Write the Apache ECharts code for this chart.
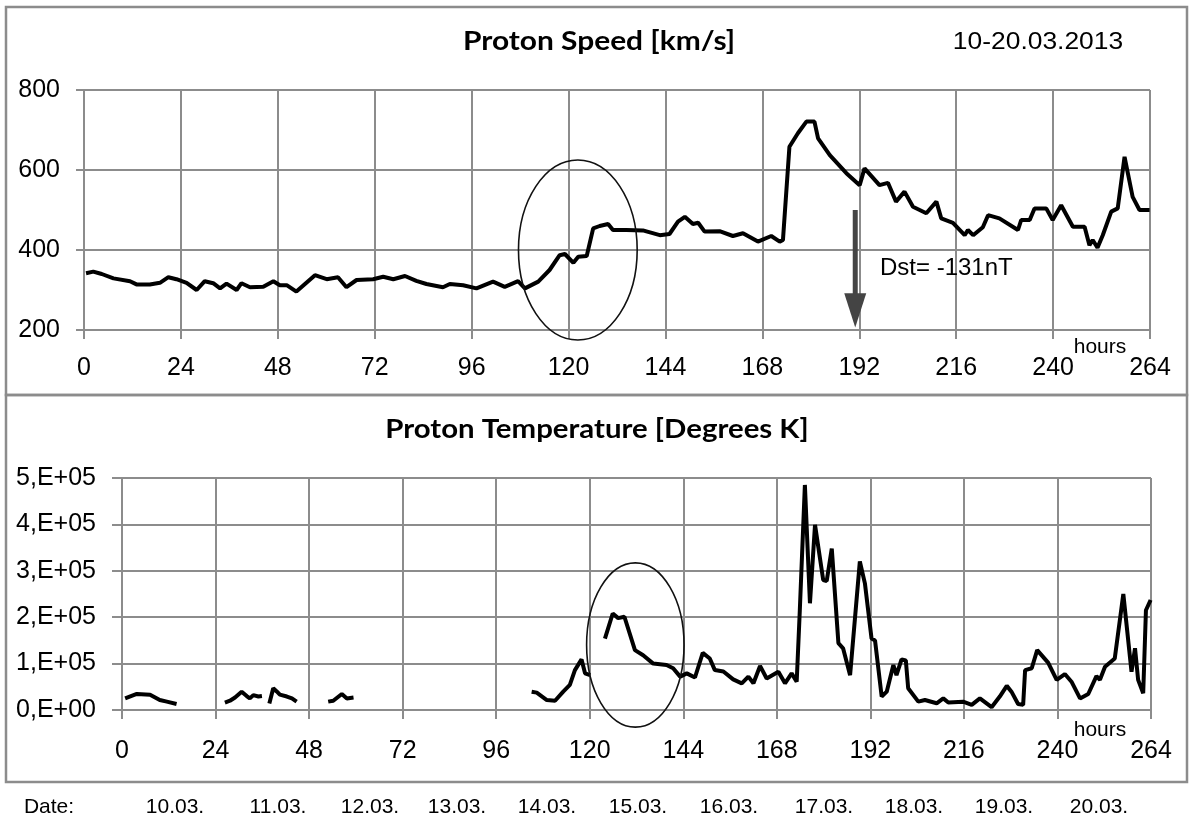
<!DOCTYPE html>
<html>
<head>
<meta charset="utf-8">
<script src="https://cdn.jsdelivr.net/npm/echarts@6/dist/echarts.min.js"></script>
<style>
  html, body { margin: 0; background: #fff; }
  #chart { width: 1189px; height: 823px; }
</style>
</head>
<body>
<div id="chart"></div>
<script>
// proton speed [km/s], hours from 10.03.2013 00:00
const speedHours = [0.5, 2.3, 4.4, 7.3, 11.4, 13, 16.3, 18.8, 20.9, 22.9, 25.4, 27.9, 29.9, 32, 33.7, 35.3, 37.8, 39, 41.1, 44.4,
  46.9, 48.5, 50.2, 52.6, 57.2, 60.1, 62.9, 65, 67.5, 71.6, 74.1, 76.6, 79.5, 82.3, 84.8, 88.9, 90.6, 93.9, 97.2, 101.3,
  104.2, 107.5, 109.2, 112.5, 115.3, 117.8, 119.1, 121.2, 122.4, 124.5, 126.1, 127.7, 129.8, 131, 134.3, 138.4, 142.6, 145, 147.1, 148.8,
  150.8, 152.1, 153.7, 157.4, 160.7, 163.2, 166.9, 170.2, 172.3, 173.1, 174.7, 176.8, 178.9, 180.9, 181.8, 184.7, 188.8, 192.1, 193.3, 197,
  199.1, 201.1, 203.2, 205.3, 208.6, 211.1, 212.3, 215.2, 218.1, 218.9, 220.2, 222.6, 223.9, 226.7, 231.3, 232.1, 234.2, 235.4, 238.3, 239.9,
  242, 244.9, 247.8, 249, 249.8, 251, 252.3, 254.4, 256, 257.7, 259.7, 261.4, 263.9];
const speedValues = [342, 346, 340, 329, 322, 314, 314, 318, 332, 327, 318, 300, 322, 317, 304, 316, 300, 317, 307, 308,
  322, 312, 312, 296, 337, 327, 332, 307, 325, 327, 333, 327, 335, 323, 315, 307, 315, 312, 304, 321,
  308, 322, 304, 321, 350, 387, 390, 368, 383, 385, 454, 460, 465, 450, 450, 449, 437, 440, 471, 483,
  465, 468, 446, 447, 435, 442, 421, 435, 421, 425, 658, 692, 721, 721, 679, 637, 592, 562, 604, 562,
  568, 521, 546, 508, 492, 521, 479, 468, 437, 450, 437, 457, 487, 479, 450, 475, 475, 504, 504, 475,
  512, 458, 458, 412, 425, 406, 437, 496, 504, 633, 533, 500, 500];

// proton temperature [K], null = data gap
const tempHours = [0.8, 3.8, 7.2, 9.7, 11.5, 14, 20, 26.4, 27.7, 29, 30.7, 32, 32.8, 33.7, 35, 35.9, 37, 37.8, 38.8, 39.7,
  40.5, 42.3, 43.6, 44.8, 50, 52.9, 54.2, 56.4, 57.7, 59.4, 80, 105.1, 106.4, 109, 111.1, 113.2, 114.9, 116.2, 117.9, 118.8,
  120.1, 122, 123.9, 125.9, 127.3, 128.9, 131.6, 133.7, 136.3, 139.7, 141.4, 143.2, 144.9, 147, 149, 150.8, 152.1, 154.3, 156.8, 159,
  160.7, 162, 163.7, 165.4, 168.4, 170.1, 171.8, 173.1, 173.9, 175.2, 176.5, 177.8, 179.9, 180.8, 182.1, 183.8, 185, 186.8, 189.3, 190.6,
  192.3, 193.2, 194.9, 196.2, 197.9, 198.7, 200, 201.1, 201.7, 204.3, 206, 209, 210.7, 212, 215.8, 218, 220.1, 223.1, 225.2, 227,
  228.2, 229.9, 231.2, 231.7, 233.4, 234.8, 237.6, 239.8, 241.9, 243.6, 245.8, 247.9, 250, 250.9, 252.2, 254.7, 256.9, 259, 259.9, 260.7,
  262, 262.7, 263.9];
const tempValues = [25000, 34500, 33000, 21500, 18000, 13000, null, 16000, 20000, 27000, 39500, 30000, 25000, 32000, 29000, 30000, null, 14000, 47000, 40000,
  33000, 29000, 25000, 18000, null, 18000, 20000, 34500, 25000, 27000, null, 39500, 37500, 21500, 20000, 39500, 54000, 86000, 109000, 79000,
  75000, null, 154000, 208000, 198000, 201000, 129000, 118000, 100000, 97000, 90000, 72000, 79000, 70000, 123000, 111000, 86000, 83000, 66000, 57500,
  72000, 57500, 95000, 68000, 82500, 57500, 79000, 61000, 215000, 485000, 230000, 399000, 280000, 278000, 348000, 144000, 133000, 75000, 320000, 273000,
  154000, 150000, 29000, 39500, 97000, 75000, 109000, 107000, 47000, 18000, 21500, 14500, 25000, 16000, 18000, 11000, 25000, 6000, 29000, 52000,
  39500, 13000, 11000, 86000, 90000, 129000, 102000, 65000, 77500, 61000, 25000, 34500, 73000, 65000, 93000, 111000, 250000, 82500, 133000, 65000,
  36000, 215000, 237000];

const dateLabels = ["10.03.", "11.03.", "12.03.", "13.03.", "14.03.", "15.03.", "16.03.", "17.03.", "18.03.", "19.03.", "20.03."];
const dateLabelX = [175, 278, 370, 457, 547, 638, 729, 824, 914, 1004, 1099];

const gridColor = "#8c8c8c";
const axisFont = "Liberation Sans, Arial, sans-serif";
const titleFont = "Lato, 'Noto Sans', sans-serif";

function hourAxis(gridIndex, margin) {
  return {
    type: "value",
    gridIndex: gridIndex,
    min: 0,
    max: 264,
    interval: 24,
    axisLine: { show: true, lineStyle: { color: gridColor, width: 2 } },
    axisTick: { show: true, length: 9, lineStyle: { color: gridColor, width: 2 } },
    axisLabel: { color: "#000", fontFamily: axisFont, fontSize: 25, margin: margin, showMinLabel: true, showMaxLabel: true },
    splitLine: { show: true, lineStyle: { color: gridColor, width: 2 } },
  };
}

const chart = echarts.init(document.getElementById("chart"));
chart.setOption({
  animation: false,
  grid: [
    { left: 84, right: 39, top: 90, bottom: 493, outerBoundsMode: "none" },
    { left: 122, right: 38, top: 478, bottom: 113, outerBoundsMode: "none" },
  ],
  xAxis: [hourAxis(0, 26), hourAxis(1, 29)],
  yAxis: [
    {
      type: "value",
      gridIndex: 0,
      min: 200,
      max: 800,
      interval: 200,
      axisLine: { show: true, lineStyle: { color: gridColor, width: 2 } },
      axisTick: { show: true, length: 8, lineStyle: { color: gridColor, width: 2 } },
      axisLabel: { color: "#000", fontFamily: axisFont, fontSize: 25, margin: 24 },
      splitLine: { show: true, lineStyle: { color: gridColor, width: 2 } },
    },
    {
      type: "value",
      gridIndex: 1,
      min: 0,
      max: 500000,
      interval: 100000,
      axisLine: { show: true, lineStyle: { color: gridColor, width: 2 } },
      axisTick: { show: true, length: 10, lineStyle: { color: gridColor, width: 2 } },
      axisLabel: {
        color: "#000",
        fontFamily: axisFont,
        fontSize: 25,
        margin: 26,
        formatter: function (v) {
          return v === 0 ? "0,E+00" : v / 100000 + ",E+05";
        },
      },
      splitLine: { show: true, lineStyle: { color: gridColor, width: 2 } },
    },
  ],
  series: [
    {
      name: "Proton Speed",
      type: "line",
      xAxisIndex: 0,
      yAxisIndex: 0,
      symbol: "none",
      data: speedHours.map((h, i) => [h, speedValues[i]]),
      lineStyle: { color: "#000", width: 4 },
      z: 5,
    },
    {
      name: "Proton Temperature",
      type: "line",
      xAxisIndex: 1,
      yAxisIndex: 1,
      symbol: "none",
      connectNulls: false,
      data: tempHours.map((h, i) => [h, tempValues[i] === null ? "-" : tempValues[i]]),
      lineStyle: { color: "#000", width: 4 },
      z: 5,
    },
  ],
});

// annotations: ellipses round the shock, Dst arrow, titles, frames
const topEllipse = { h: 122.3, v: 400, dh: 14.7, dv: 225 };
const bottomEllipse = { h: 131.7, v: 140000, dh: 12.5, dv: 177000 };

function ellipseShape(e, xi) {
  const c = chart.convertToPixel({ xAxisIndex: xi, yAxisIndex: xi }, [e.h, e.v]);
  const edge = chart.convertToPixel({ xAxisIndex: xi, yAxisIndex: xi }, [e.h + e.dh, e.v + e.dv]);
  return { cx: c[0], cy: c[1], rx: edge[0] - c[0], ry: c[1] - edge[1] };
}

const arrowTop = chart.convertToPixel({ xAxisIndex: 0, yAxisIndex: 0 }, [191, 500]);
const arrowHead = chart.convertToPixel({ xAxisIndex: 0, yAxisIndex: 0 }, [191, 292]);
const arrowTip = chart.convertToPixel({ xAxisIndex: 0, yAxisIndex: 0 }, [191, 206]);

const graphics = [
  { type: "rect", shape: { x: 6, y: 7, width: 1181, height: 388 }, style: { fill: "none", stroke: "#8c8c8c", lineWidth: 2.5 }, z: 0 },
  { type: "rect", shape: { x: 6, y: 395, width: 1181, height: 387 }, style: { fill: "none", stroke: "#8c8c8c", lineWidth: 2.5 }, z: 0 },
  { type: "ellipse", shape: ellipseShape(topEllipse, 0), style: { fill: "none", stroke: "#111", lineWidth: 1.6 }, z: 10 },
  { type: "ellipse", shape: ellipseShape(bottomEllipse, 1), style: { fill: "none", stroke: "#111", lineWidth: 1.6 }, z: 10 },
  {
    type: "rect",
    shape: { x: arrowTop[0] - 2.5, y: arrowTop[1], width: 5, height: arrowHead[1] - arrowTop[1] + 2 },
    style: { fill: "#444" },
    z: 10,
  },
  {
    type: "polygon",
    shape: { points: [[arrowHead[0] - 11, arrowHead[1]], [arrowHead[0] + 11, arrowHead[1]], [arrowTip[0], arrowTip[1]]] },
    style: { fill: "#444" },
    z: 10,
  },
  {
    type: "text", x: 880, y: 268,
    style: { text: "Dst= -131nT", fontFamily: axisFont, fontSize: 24, fill: "#000", verticalAlign: "middle" },
    z: 10,
  },
  {
    type: "text", x: 599, y: 42, scaleX: 1.15,
    style: { text: "Proton Speed [km/s]", fontFamily: titleFont, fontWeight: "bold", fontSize: 26, fill: "#000", align: "center", verticalAlign: "middle" },
  },
  {
    type: "text", x: 1038, y: 42, scaleX: 1.1,
    style: { text: "10-20.03.2013", fontFamily: axisFont, fontSize: 24, fill: "#000", align: "center", verticalAlign: "middle" },
  },
  {
    type: "text", x: 597, y: 430, scaleX: 1.13,
    style: { text: "Proton Temperature [Degrees K]", fontFamily: titleFont, fontWeight: "bold", fontSize: 26, fill: "#000", align: "center", verticalAlign: "middle" },
  },
  {
    type: "text", x: 1100, y: 347,
    style: { text: "hours", fontFamily: axisFont, fontSize: 21, fill: "#000", align: "center", verticalAlign: "middle" },
  },
  {
    type: "text", x: 1100, y: 730,
    style: { text: "hours", fontFamily: axisFont, fontSize: 21, fill: "#000", align: "center", verticalAlign: "middle" },
  },
  {
    type: "text", x: 49, y: 807,
    style: { text: "Date:", fontFamily: axisFont, fontSize: 21, fill: "#000", align: "center", verticalAlign: "middle" },
  },
];
dateLabels.forEach(function (d, i) {
  graphics.push({
    type: "text", x: dateLabelX[i], y: 807,
    style: { text: d, fontFamily: axisFont, fontSize: 21, fill: "#000", align: "center", verticalAlign: "middle" },
  });
});

chart.setOption({ graphic: graphics });
</script>
</body>
</html>
